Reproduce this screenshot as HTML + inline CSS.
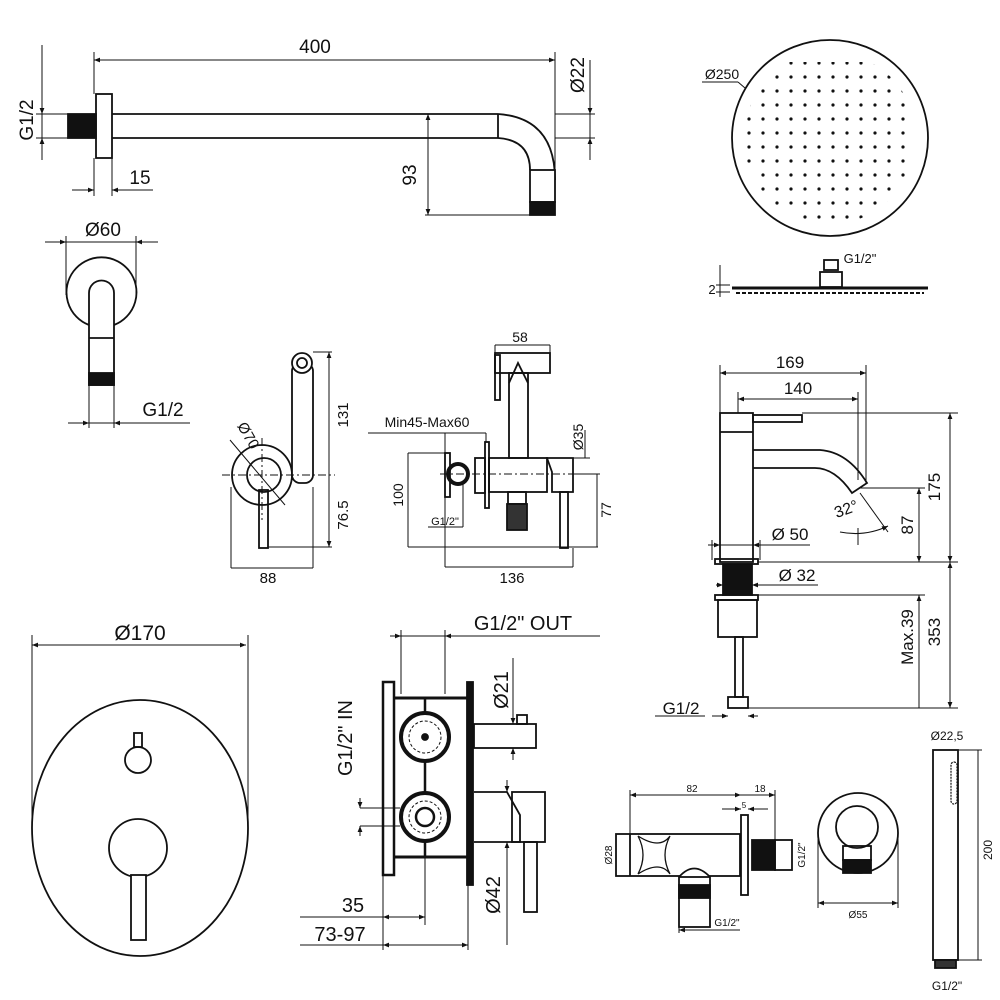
<!DOCTYPE html>
<html><head><meta charset="utf-8"><style>
html,body{margin:0;padding:0;background:#fff}
svg{display:block}
text{font-family:"Liberation Sans",sans-serif;fill:#111}
</style></head><body>
<svg width="1000" height="1000" viewBox="0 0 1000 1000" xmlns="http://www.w3.org/2000/svg">
<defs>
<marker id="a" viewBox="0 0 10 10" refX="10" refY="5" markerWidth="8" markerHeight="6" orient="auto-start-reverse"><path d="M0,1 L10,5 L0,9 z" fill="#111"/></marker>
<pattern id="dots" x="0" y="0" width="14" height="14" patternUnits="userSpaceOnUse"><circle cx="7" cy="7" r="1.6" fill="#111"/></pattern>
<clipPath id="cc"><circle cx="830" cy="138" r="86"/></clipPath>
</defs>
<g fill="none" stroke="#111" stroke-width="1.8">
<!-- shower arm -->
<rect x="96" y="94" width="16" height="64" fill="#fff"/>
<rect x="68" y="114" width="28" height="24" fill="#111"/>
<line x1="112" y1="114" x2="498" y2="114"/>
<line x1="112" y1="138" x2="498" y2="138"/>
<line x1="498" y1="114" x2="498" y2="138"/>
<path d="M498,114 Q555,118 555,180"/>
<path d="M498,138 Q530,140 530,170"/>
<rect x="530" y="170" width="25" height="32" fill="#fff"/>
<rect x="530" y="202" width="25" height="13" fill="#111"/>
<!-- 60 view -->
<path d="M89,325 A35,35 0 1 1 114,325"/>
<path d="M89,385 L89,293 A12.5,12.5 0 0 1 114,293 L114,385 Z" fill="#fff"/>
<line x1="89" y1="338" x2="114" y2="338"/>
<rect x="89" y="373" width="25" height="12" fill="#111"/>
<!-- shower head -->
<circle cx="830" cy="138" r="98"/>
<line x1="732" y1="288" x2="928" y2="288" stroke-width="3"/>
<line x1="736" y1="293" x2="924" y2="293" stroke-dasharray="4,2" stroke-width="2"/>
<rect x="820" y="272" width="22" height="15"/>
<rect x="824" y="260" width="14" height="10"/>
<!-- bidet side -->
<circle cx="262" cy="475" r="30"/>
<circle cx="264" cy="475" r="17"/>
<rect x="292" y="363" width="21" height="120" rx="8" fill="#fff"/>
<circle cx="302" cy="363" r="10" fill="#fff"/>
<circle cx="302" cy="363" r="5"/>
<rect x="259" y="490" width="9" height="58"/>
<!-- bidet front -->
<rect x="445" y="453" width="5" height="44"/>
<circle cx="458" cy="474" r="10" stroke-width="4"/>
<rect x="475" y="458" width="10" height="35"/>
<rect x="485" y="442" width="4" height="66"/>
<rect x="489" y="458" width="58" height="34"/>
<path d="M547,458 L573,458 L573,492 L552,492 L552,472 Z"/>
<rect x="560" y="492" width="8" height="56"/>
<rect x="509" y="373" width="19" height="85"/>
<path d="M509,383 L518,363 L528,383"/>
<rect x="495" y="353" width="55" height="20"/>
<rect x="495" y="355" width="5" height="45"/>
<rect x="508" y="492" width="18" height="12"/>
<rect x="507" y="504" width="20" height="26" fill="#333"/>
<!-- diverter panel -->
<ellipse cx="140" cy="828" rx="108" ry="128"/>
<circle cx="138" cy="760" r="13"/>
<rect x="134" y="733" width="8" height="14"/>
<circle cx="138" cy="848" r="29"/>
<rect x="131" y="875" width="15" height="65" fill="#fff"/>
<!-- diverter side -->
<rect x="383" y="682" width="11" height="193" stroke-width="2.5"/>
<rect x="467" y="682" width="6" height="203" fill="#111"/>
<line x1="394" y1="698" x2="467" y2="698" stroke-width="3"/>
<line x1="394" y1="857" x2="467" y2="857" stroke-width="3"/>
<line x1="425" y1="698" x2="425" y2="857" stroke-width="2.5"/>
<circle cx="425" cy="737" r="24" fill="#fff" stroke-width="4"/>
<circle cx="425" cy="737" r="16" stroke-width="1" stroke-dasharray="3,2"/>
<circle cx="425" cy="737" r="3" fill="#111"/>
<circle cx="425" cy="817" r="24" fill="#fff" stroke-width="4"/>
<circle cx="425" cy="817" r="16" stroke-width="1" stroke-dasharray="3,2"/>
<circle cx="425" cy="817" r="9" stroke-width="2.5"/>
<rect x="474" y="724" width="62" height="24"/>
<rect x="517" y="715" width="10" height="9"/>
<path d="M474,792 L507,792 L520,815 L520,842 L474,842" />
<rect x="512" y="792" width="33" height="50"/>
<rect x="524" y="842" width="13" height="70"/>
<!-- faucet -->
<rect x="720" y="413" width="33" height="149" fill="#fff"/>
<line x1="720" y1="432" x2="753" y2="432"/>
<rect x="753" y="415" width="49" height="7"/>
<path d="M753,450 L820,450 Q848,452 867,483 L852,493 Q835,468 815,468 L753,468"/>
<rect x="715" y="559" width="43" height="5"/>
<rect x="723" y="564" width="29" height="31" fill="#111"/>
<rect x="715" y="595" width="43" height="5"/>
<rect x="718" y="600" width="39" height="37"/>
<rect x="735" y="637" width="8" height="60"/>
<rect x="728" y="697" width="20" height="11"/>
<!-- angle valve -->
<rect x="616" y="834" width="124" height="42"/>
<line x1="630" y1="834" x2="630" y2="876"/>
<path d="M638,836 Q660,850 670,836 M638,874 Q660,860 670,874 M638,836 Q648,855 638,874 M670,836 Q660,855 670,874" stroke-width="1.3"/>
<rect x="741" y="815" width="7" height="80"/>
<rect x="752" y="840" width="23" height="30" fill="#111"/>
<rect x="775" y="840" width="17" height="30"/>
<path d="M679,877 Q694,860 710,877" fill="#fff"/>
<rect x="679" y="877" width="31" height="50" fill="#fff"/>
<rect x="679" y="885" width="31" height="13" fill="#111"/>
<!-- wall outlet -->
<circle cx="858" cy="833" r="40"/>
<circle cx="857" cy="827" r="21"/>
<rect x="843" y="846" width="28" height="14"/>
<rect x="843" y="860" width="28" height="13" fill="#111"/>
<!-- hand shower -->
<rect x="933" y="750" width="25" height="210"/>
<rect x="951" y="762" width="6" height="42" rx="3" stroke-width="1.2" stroke-dasharray="2,1"/>
<rect x="935" y="960" width="21" height="8" fill="#333"/>
</g>
<rect x="745" y="62" width="170" height="160" fill="url(#dots)" clip-path="url(#cc)"/>

<!-- dimension lines -->
<g fill="none" stroke="#111" stroke-width="1">
<line x1="94" y1="60" x2="555" y2="60" marker-start="url(#a)" marker-end="url(#a)"/>
<line x1="94" y1="52" x2="94" y2="94"/><line x1="555" y1="52" x2="555" y2="180"/>
<line x1="42" y1="45" x2="42" y2="160"/><line x1="36" y1="114" x2="68" y2="114"/><line x1="36" y1="138" x2="68" y2="138"/>
<line x1="42" y1="100" x2="42" y2="114" marker-end="url(#a)"/><line x1="42" y1="152" x2="42" y2="138" marker-end="url(#a)"/>
<line x1="590" y1="60" x2="590" y2="160"/><line x1="555" y1="114" x2="595" y2="114"/><line x1="555" y1="138" x2="595" y2="138"/>
<line x1="590" y1="100" x2="590" y2="114" marker-end="url(#a)"/><line x1="590" y1="152" x2="590" y2="138" marker-end="url(#a)"/>
<line x1="94" y1="158" x2="94" y2="196"/><line x1="112" y1="158" x2="112" y2="196"/>
<line x1="72" y1="190" x2="94" y2="190" marker-end="url(#a)"/><line x1="153" y1="190" x2="112" y2="190" marker-end="url(#a)"/>
<line x1="428" y1="114" x2="428" y2="215" marker-start="url(#a)" marker-end="url(#a)"/>
<line x1="425" y1="215" x2="555" y2="215"/>
<!-- 60 -->
<line x1="45" y1="242" x2="158" y2="242"/>
<line x1="57" y1="242" x2="66" y2="242" marker-end="url(#a)"/><line x1="146" y1="242" x2="136" y2="242" marker-end="url(#a)"/>
<line x1="66" y1="236" x2="66" y2="295"/><line x1="136" y1="236" x2="136" y2="295"/>
<line x1="89" y1="385" x2="89" y2="428"/><line x1="114" y1="385" x2="114" y2="428"/>
<line x1="68" y1="423" x2="190" y2="423"/>
<line x1="78" y1="423" x2="89" y2="423" marker-end="url(#a)"/><line x1="125" y1="423" x2="114" y2="423" marker-end="url(#a)"/>
<!-- shower head -->
<line x1="702" y1="82" x2="738" y2="82"/><line x1="738" y1="82" x2="745" y2="88"/>
<line x1="720" y1="265" x2="720" y2="297"/><line x1="716" y1="285" x2="730" y2="285"/><line x1="716" y1="292" x2="730" y2="292"/>
<!-- bidet side dims -->
<line x1="313" y1="352" x2="332" y2="352"/><line x1="329" y1="352" x2="329" y2="547" marker-start="url(#a)" marker-end="url(#a)"/>
<line x1="222" y1="475" x2="335" y2="475" stroke-dasharray="8,3,2,3"/>
<line x1="262" y1="438" x2="262" y2="520" stroke-dasharray="8,3,2,3"/>
<line x1="268" y1="547" x2="332" y2="547"/>
<line x1="231" y1="487" x2="231" y2="568"/><line x1="313" y1="487" x2="313" y2="568"/><line x1="231" y1="568" x2="313" y2="568"/>
<line x1="230" y1="440" x2="285" y2="505"/>
<!-- bidet front dims -->
<line x1="495" y1="345" x2="550" y2="345"/><line x1="495" y1="345" x2="495" y2="353"/><line x1="550" y1="345" x2="550" y2="353"/>
<line x1="368" y1="433" x2="486" y2="433"/><line x1="445" y1="433" x2="445" y2="567"/><line x1="486" y1="433" x2="486" y2="442"/>
<line x1="408" y1="453" x2="445" y2="453"/><line x1="408" y1="453" x2="408" y2="547"/><line x1="408" y1="547" x2="598" y2="547"/>
<line x1="428" y1="527" x2="463" y2="527"/><line x1="463" y1="484" x2="463" y2="527"/>
<line x1="445" y1="567" x2="573" y2="567"/><line x1="573" y1="548" x2="573" y2="567"/>
<line x1="585" y1="430" x2="585" y2="458"/><line x1="573" y1="458" x2="590" y2="458"/>
<line x1="597" y1="474" x2="597" y2="547"/><line x1="573" y1="474" x2="600" y2="474"/>
<line x1="440" y1="474" x2="595" y2="474" stroke-dasharray="8,3,2,3"/>
<!-- diverter panel dims -->
<line x1="32" y1="645" x2="246" y2="645" marker-start="url(#a)" marker-end="url(#a)"/>
<line x1="32" y1="635" x2="32" y2="828"/><line x1="248" y1="635" x2="248" y2="828"/>
<!-- diverter side dims -->
<line x1="401" y1="636" x2="600" y2="636"/>
<line x1="390" y1="636" x2="401" y2="636" marker-end="url(#a)"/><line x1="456" y1="636" x2="445" y2="636" marker-end="url(#a)"/>
<line x1="401" y1="630" x2="401" y2="694"/><line x1="445" y1="630" x2="445" y2="694"/>
<line x1="513" y1="658" x2="513" y2="724" marker-end="url(#a)"/><line x1="513" y1="760" x2="513" y2="748" marker-end="url(#a)"/>
<line x1="360" y1="808" x2="400" y2="808"/><line x1="360" y1="826" x2="400" y2="826"/>
<line x1="360" y1="798" x2="360" y2="808" marker-end="url(#a)"/><line x1="360" y1="836" x2="360" y2="826" marker-end="url(#a)"/>
<line x1="507" y1="780" x2="507" y2="792" marker-end="url(#a)"/><line x1="507" y1="945" x2="507" y2="842" marker-end="url(#a)"/>
<line x1="383" y1="875" x2="383" y2="950"/><line x1="425" y1="857" x2="425" y2="925"/><line x1="468" y1="885" x2="468" y2="950"/>
<line x1="300" y1="917" x2="425" y2="917"/><line x1="383" y1="917" x2="425" y2="917" marker-start="url(#a)" marker-end="url(#a)"/>
<line x1="300" y1="945" x2="468" y2="945"/><line x1="383" y1="945" x2="468" y2="945" marker-start="url(#a)" marker-end="url(#a)"/>
<!-- faucet dims -->
<line x1="720" y1="365" x2="720" y2="413"/><line x1="866" y1="365" x2="866" y2="483"/><line x1="738" y1="392" x2="738" y2="413"/><line x1="858" y1="392" x2="858" y2="480"/>
<line x1="720" y1="373" x2="866" y2="373" marker-start="url(#a)" marker-end="url(#a)"/>
<line x1="738" y1="399" x2="858" y2="399" marker-start="url(#a)" marker-end="url(#a)"/>
<line x1="802" y1="413" x2="958" y2="413"/><line x1="860" y1="488" x2="925" y2="488"/>
<line x1="758" y1="562" x2="958" y2="562"/><line x1="758" y1="595" x2="925" y2="595"/><line x1="748" y1="708" x2="958" y2="708"/>
<line x1="950" y1="413" x2="950" y2="562" marker-start="url(#a)" marker-end="url(#a)"/>
<line x1="950" y1="562" x2="950" y2="708" marker-start="url(#a)" marker-end="url(#a)"/>
<line x1="919" y1="488" x2="919" y2="562" marker-start="url(#a)" marker-end="url(#a)"/>
<line x1="919" y1="595" x2="919" y2="708" marker-start="url(#a)"/>
<line x1="708" y1="545" x2="810" y2="545"/><line x1="708" y1="545" x2="720" y2="545" marker-end="url(#a)"/><line x1="765" y1="545" x2="753" y2="545" marker-end="url(#a)"/>
<line x1="716" y1="585" x2="818" y2="585"/><line x1="716" y1="585" x2="723" y2="585" marker-end="url(#a)"/><line x1="762" y1="585" x2="752" y2="585" marker-end="url(#a)"/>
<line x1="712" y1="540" x2="712" y2="560"/><line x1="760" y1="540" x2="760" y2="560"/>
<line x1="860" y1="493" x2="888" y2="532"/><path d="M840,532 Q865,537 888,526" marker-end="url(#a)"/><line x1="858" y1="528" x2="858" y2="545"/>
<line x1="655" y1="716" x2="705" y2="716"/><line x1="712" y1="716" x2="728" y2="716" marker-end="url(#a)"/><line x1="758" y1="716" x2="748" y2="716" marker-end="url(#a)"/>
<!-- angle valve dims -->
<line x1="630" y1="795" x2="741" y2="795" marker-start="url(#a)" marker-end="url(#a)"/>
<line x1="741" y1="795" x2="775" y2="795" marker-end="url(#a)"/>
<line x1="630" y1="790" x2="630" y2="834"/><line x1="775" y1="790" x2="775" y2="840"/>
<line x1="722" y1="809" x2="741" y2="809" marker-end="url(#a)"/><line x1="768" y1="809" x2="748" y2="809" marker-end="url(#a)"/>
<line x1="616" y1="834" x2="616" y2="876"/><line x1="792" y1="840" x2="792" y2="870"/>
<line x1="679" y1="927" x2="679" y2="933"/><line x1="679" y1="930" x2="740" y2="930"/><line x1="679" y1="930" x2="710" y2="930" marker-start="url(#a)"/>
<line x1="818" y1="903" x2="898" y2="903" marker-start="url(#a)" marker-end="url(#a)"/>
<line x1="818" y1="833" x2="818" y2="908"/><line x1="898" y1="833" x2="898" y2="908"/>
<!-- hand shower -->
<line x1="958" y1="750" x2="982" y2="750"/><line x1="958" y1="960" x2="982" y2="960"/>
<line x1="978" y1="750" x2="978" y2="960"/>
</g>

<!-- text -->
<text x="315" y="53" font-size="19" text-anchor="middle">400</text>
<text x="33" y="120" font-size="19" text-anchor="middle" transform="rotate(-90 33 120)">G1/2</text>
<text x="584" y="75" font-size="19" text-anchor="middle" transform="rotate(-90 584 75)">Ø22</text>
<text x="140" y="184" font-size="19" text-anchor="middle">15</text>
<text x="416" y="175" font-size="19" text-anchor="middle" transform="rotate(-90 416 175)">93</text>
<text x="103" y="236" font-size="19" text-anchor="middle">Ø60</text>
<text x="163" y="416" font-size="19" text-anchor="middle">G1/2</text>
<text x="722" y="79" font-size="14" text-anchor="middle">Ø250</text>
<text x="860" y="263" font-size="13" text-anchor="middle">G1/2"</text>
<text x="712" y="294" font-size="13" text-anchor="middle">2</text>
<text x="348" y="415" font-size="15" text-anchor="middle" transform="rotate(-90 348 415)">131</text>
<text x="348" y="515" font-size="15" text-anchor="middle" transform="rotate(-90 348 515)">76.5</text>
<text x="268" y="583" font-size="15" text-anchor="middle">88</text>
<text x="244" y="438" font-size="15" text-anchor="middle" transform="rotate(60 244 438)">Ø70</text>
<text x="520" y="342" font-size="14" text-anchor="middle">58</text>
<text x="427" y="427" font-size="14" text-anchor="middle">Min45-Max60</text>
<text x="403" y="495" font-size="14" text-anchor="middle" transform="rotate(-90 403 495)">100</text>
<text x="445" y="525" font-size="11" text-anchor="middle">G1/2"</text>
<text x="512" y="583" font-size="15" text-anchor="middle">136</text>
<text x="583" y="437" font-size="14" text-anchor="middle" transform="rotate(-90 583 437)">Ø35</text>
<text x="611" y="510" font-size="14" text-anchor="middle" transform="rotate(-90 611 510)">77</text>
<text x="140" y="640" font-size="21" text-anchor="middle">Ø170</text>
<text x="523" y="630" font-size="20" text-anchor="middle">G1/2" OUT</text>
<text x="508" y="690" font-size="20" text-anchor="middle" transform="rotate(-90 508 690)">Ø21</text>
<text x="352" y="738" font-size="20" text-anchor="middle" transform="rotate(-90 352 738)">G1/2" IN</text>
<text x="353" y="912" font-size="20" text-anchor="middle">35</text>
<text x="340" y="941" font-size="20" text-anchor="middle">73-97</text>
<text x="500" y="895" font-size="20" text-anchor="middle" transform="rotate(-90 500 895)">Ø42</text>
<text x="790" y="368" font-size="17" text-anchor="middle">169</text>
<text x="798" y="394" font-size="17" text-anchor="middle">140</text>
<text x="940" y="487" font-size="17" text-anchor="middle" transform="rotate(-90 940 487)">175</text>
<text x="913" y="525" font-size="17" text-anchor="middle" transform="rotate(-90 913 525)">87</text>
<text x="848" y="514" font-size="16" text-anchor="middle" transform="rotate(-20 848 514)">32°</text>
<text x="790" y="540" font-size="17" text-anchor="middle">Ø 50</text>
<text x="797" y="581" font-size="17" text-anchor="middle">Ø 32</text>
<text x="913" y="637" font-size="17" text-anchor="middle" transform="rotate(-90 913 637)">Max.39</text>
<text x="940" y="632" font-size="17" text-anchor="middle" transform="rotate(-90 940 632)">353</text>
<text x="681" y="714" font-size="17" text-anchor="middle">G1/2</text>
<text x="692" y="792" font-size="10" text-anchor="middle">82</text>
<text x="760" y="792" font-size="10" text-anchor="middle">18</text>
<text x="744" y="808" font-size="8" text-anchor="middle">5</text>
<text x="612" y="855" font-size="10" text-anchor="middle" transform="rotate(-90 612 855)">Ø28</text>
<text x="805" y="855" font-size="10" text-anchor="middle" transform="rotate(-90 805 855)">G1/2"</text>
<text x="727" y="926" font-size="10" text-anchor="middle">G1/2"</text>
<text x="858" y="918" font-size="10" text-anchor="middle">Ø55</text>
<text x="947" y="740" font-size="12" text-anchor="middle">Ø22,5</text>
<text x="992" y="850" font-size="12" text-anchor="middle" transform="rotate(-90 992 850)">200</text>
<text x="947" y="990" font-size="12" text-anchor="middle">G1/2"</text>
</svg>
</body></html>
